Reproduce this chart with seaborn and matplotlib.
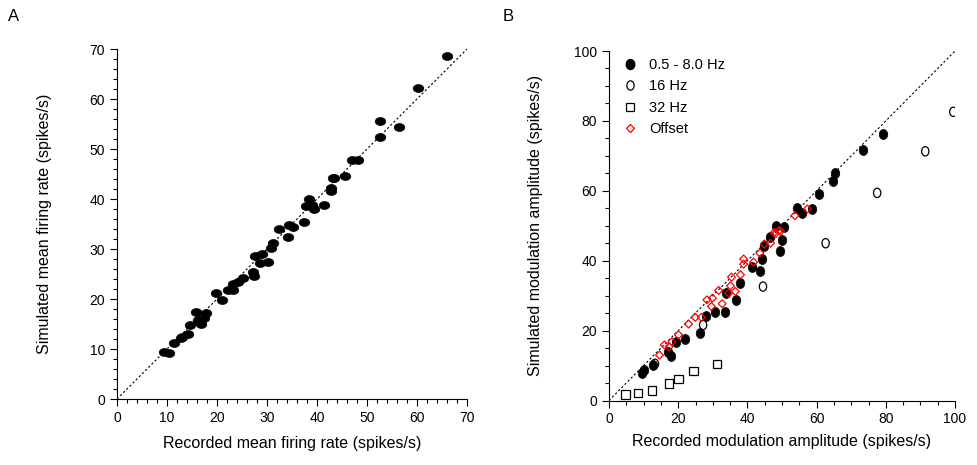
import matplotlib
matplotlib.use("Agg")
import matplotlib.pyplot as plt
import seaborn as sns
from matplotlib.path import Path
from matplotlib.transforms import Affine2D
from matplotlib.ticker import MultipleLocator
from matplotlib.lines import Line2D

# Panel A: mean firing rate (spikes/s)
rec_rate = [9.5, 10.5, 11.4, 12.8, 13.0, 14.3, 14.6, 15.8, 16.3, 16.8,
            17.5, 17.9, 19.8, 21.1, 22.3, 23.3, 23.3, 24.3, 25.3, 27.2,
            27.4, 27.6, 28.7, 29.1, 30.2, 30.9, 31.3, 32.5, 34.3, 34.5,
            35.3, 37.5, 37.9, 38.4, 39.1, 39.5, 41.5, 42.9, 42.9, 43.2,
            43.5, 45.7, 47.0, 48.3, 52.7, 52.7, 56.4, 60.3, 66.1]
sim_rate = [9.4, 9.2, 11.3, 12.3, 12.4, 13.1, 14.8, 17.5, 15.9, 15.0,
            16.2, 17.2, 21.3, 19.9, 21.8, 21.9, 23.1, 23.4, 24.3, 25.5,
            24.6, 28.6, 27.3, 29.1, 27.5, 30.3, 31.3, 34.0, 32.5, 34.8,
            34.5, 35.4, 38.7, 40.1, 38.9, 38.0, 38.9, 41.7, 42.3, 44.3,
            44.3, 44.7, 47.9, 47.9, 55.7, 52.5, 54.5, 62.3, 68.7]

# Panel B: modulation amplitude (spikes/s)
low_rec = [9.4, 10.0, 12.6, 17.0, 18.0, 19.4, 22.0, 26.4, 28.0, 30.5,
           33.5, 33.9, 36.6, 37.8, 41.4, 43.6, 44.1, 44.8, 46.5, 49.3,
           50.1, 48.3, 50.5, 54.2, 55.7, 58.6, 60.7, 64.7, 65.2, 73.3, 79.3]
low_sim = [8.0, 8.6, 10.2, 14.0, 12.7, 16.6, 17.6, 19.3, 24.2, 25.4,
           25.4, 30.7, 28.7, 33.6, 38.3, 37.1, 40.5, 44.3, 46.8, 42.9,
           46.0, 49.8, 49.6, 55.1, 53.6, 54.8, 59.2, 62.8, 65.2, 71.6, 76.3]

hz16_rec = [13.3, 27.2, 44.5, 62.6, 77.5, 91.4, 99.5]
hz16_sim = [10.5, 21.6, 32.6, 45.0, 59.4, 71.3, 82.6]

hz32_rec = [4.8, 8.4, 12.4, 17.3, 20.1, 24.4, 31.2]
hz32_sim = [1.7, 2.1, 2.8, 4.9, 6.1, 8.5, 10.4]

off_rec = [14.6, 16.0, 17.4, 18.2, 20.1, 23.0, 24.9, 26.7, 28.3, 29.6,
           29.9, 31.7, 32.7, 34.6, 35.1, 35.4, 36.5, 38.0, 38.9, 38.9,
           41.8, 43.6, 44.9, 46.7, 47.8, 48.1, 49.1, 49.6, 53.7, 57.3]
off_sim = [13.0, 15.9, 15.4, 16.8, 18.8, 21.9, 23.8, 23.8, 28.8, 26.9,
           29.3, 31.5, 27.7, 30.7, 32.8, 35.3, 31.2, 36.0, 40.5, 39.0,
           39.6, 42.2, 44.8, 45.0, 48.1, 47.7, 48.6, 48.4, 52.9, 54.8]

sns.set_style("ticks")
plt.rcParams["font.family"] = ["Liberation Sans", "DejaVu Sans"]
plt.rcParams.update({"text.color": "k", "axes.labelcolor": "k",
                     "xtick.color": "k", "ytick.color": "k",
                     "axes.edgecolor": "k"})

# elliptical markers
ell_wide = Path.unit_circle().transformed(Affine2D().scale(1.0, 0.75))
ell_tall = Path.unit_circle().transformed(Affine2D().scale(0.85, 1.0))
ell_open = Path.unit_circle().transformed(Affine2D().scale(0.78, 1.0))

fig = plt.figure(figsize=(9.78, 4.65), dpi=100)
axA = fig.add_axes([0.1196, 0.1419, 0.3579, 0.7527])
axB = fig.add_axes([0.6227, 0.1387, 0.3538, 0.7516])

# ---- panel A
axA.plot([0, 70], [0, 70], ls=(0, (2, 2)), color="k", lw=0.8, zorder=1)
sns.scatterplot(x=rec_rate, y=sim_rate, ax=axA, marker=ell_wide, s=58,
                color="k", edgecolor="k", linewidth=0.5, zorder=3)
axA.set_xlim(0, 70)
axA.set_ylim(0, 70)
axA.xaxis.set_major_locator(MultipleLocator(10))
axA.yaxis.set_major_locator(MultipleLocator(10))
axA.xaxis.set_minor_locator(MultipleLocator(2))
axA.yaxis.set_minor_locator(MultipleLocator(2))
axA.set_xlabel("Recorded mean firing rate (spikes/s)", fontsize=11.5, labelpad=8)
axA.set_ylabel("Simulated mean firing rate (spikes/s)", fontsize=11.5, labelpad=27)

# ---- panel B
axB.plot([0, 100], [0, 100], ls=(0, (2, 2)), color="k", lw=0.8, zorder=1)
sns.scatterplot(x=low_rec, y=low_sim, ax=axB, marker=ell_tall, s=52,
                color="k", edgecolor="k", linewidth=0.5, zorder=3)
sns.scatterplot(x=hz16_rec, y=hz16_sim, ax=axB, marker=ell_open, s=45,
                facecolor="none", edgecolor="k", linewidth=0.9, zorder=3)
sns.scatterplot(x=hz32_rec, y=hz32_sim, ax=axB, marker="s", s=38,
                facecolor="none", edgecolor="k", linewidth=0.9, zorder=3)
sns.scatterplot(x=off_rec, y=off_sim, ax=axB, marker="D", s=16,
                facecolor="none", edgecolor="red", linewidth=0.9, zorder=4)
axB.set_xlim(0, 100)
axB.set_ylim(0, 100)
axB.xaxis.set_major_locator(MultipleLocator(20))
axB.yaxis.set_major_locator(MultipleLocator(20))
axB.xaxis.set_minor_locator(MultipleLocator(5))
axB.yaxis.set_minor_locator(MultipleLocator(5))
axB.set_xlabel("Recorded modulation amplitude (spikes/s)", fontsize=11.5, labelpad=5.5)
axB.set_ylabel("Simulated modulation amplitude (spikes/s)", fontsize=11.5, labelpad=22.5)

handles = [
    Line2D([], [], ls="", marker=ell_tall, markersize=7.2, color="k"),
    Line2D([], [], ls="", marker=ell_open, markersize=6.7, mfc="none", mec="k", mew=0.9),
    Line2D([], [], ls="", marker="s", markersize=6, mfc="none", mec="k", mew=0.9),
    Line2D([], [], ls="", marker="D", markersize=4, mfc="none", mec="red", mew=0.9),
]
axB.legend(handles, ["0.5 - 8.0 Hz", "16 Hz", "32 Hz", "Offset"], loc="upper left",
           bbox_to_anchor=(0.0, 1.01), frameon=False, fontsize=10.5,
           handletextpad=0.55, labelspacing=0.52, borderaxespad=0.3, handlelength=1.5)

for ax in (axA, axB):
    sns.despine(ax=ax)
    ax.tick_params(which="major", direction="out", length=5, width=0.8, labelsize=10)
    ax.tick_params(which="minor", direction="out", length=3, width=0.8)
    for sp in ax.spines.values():
        sp.set_linewidth(0.8)

fig.text(0.008, 0.955, "A", fontsize=12)
fig.text(0.514, 0.955, "B", fontsize=12)

fig.savefig("out.png", dpi=100)
